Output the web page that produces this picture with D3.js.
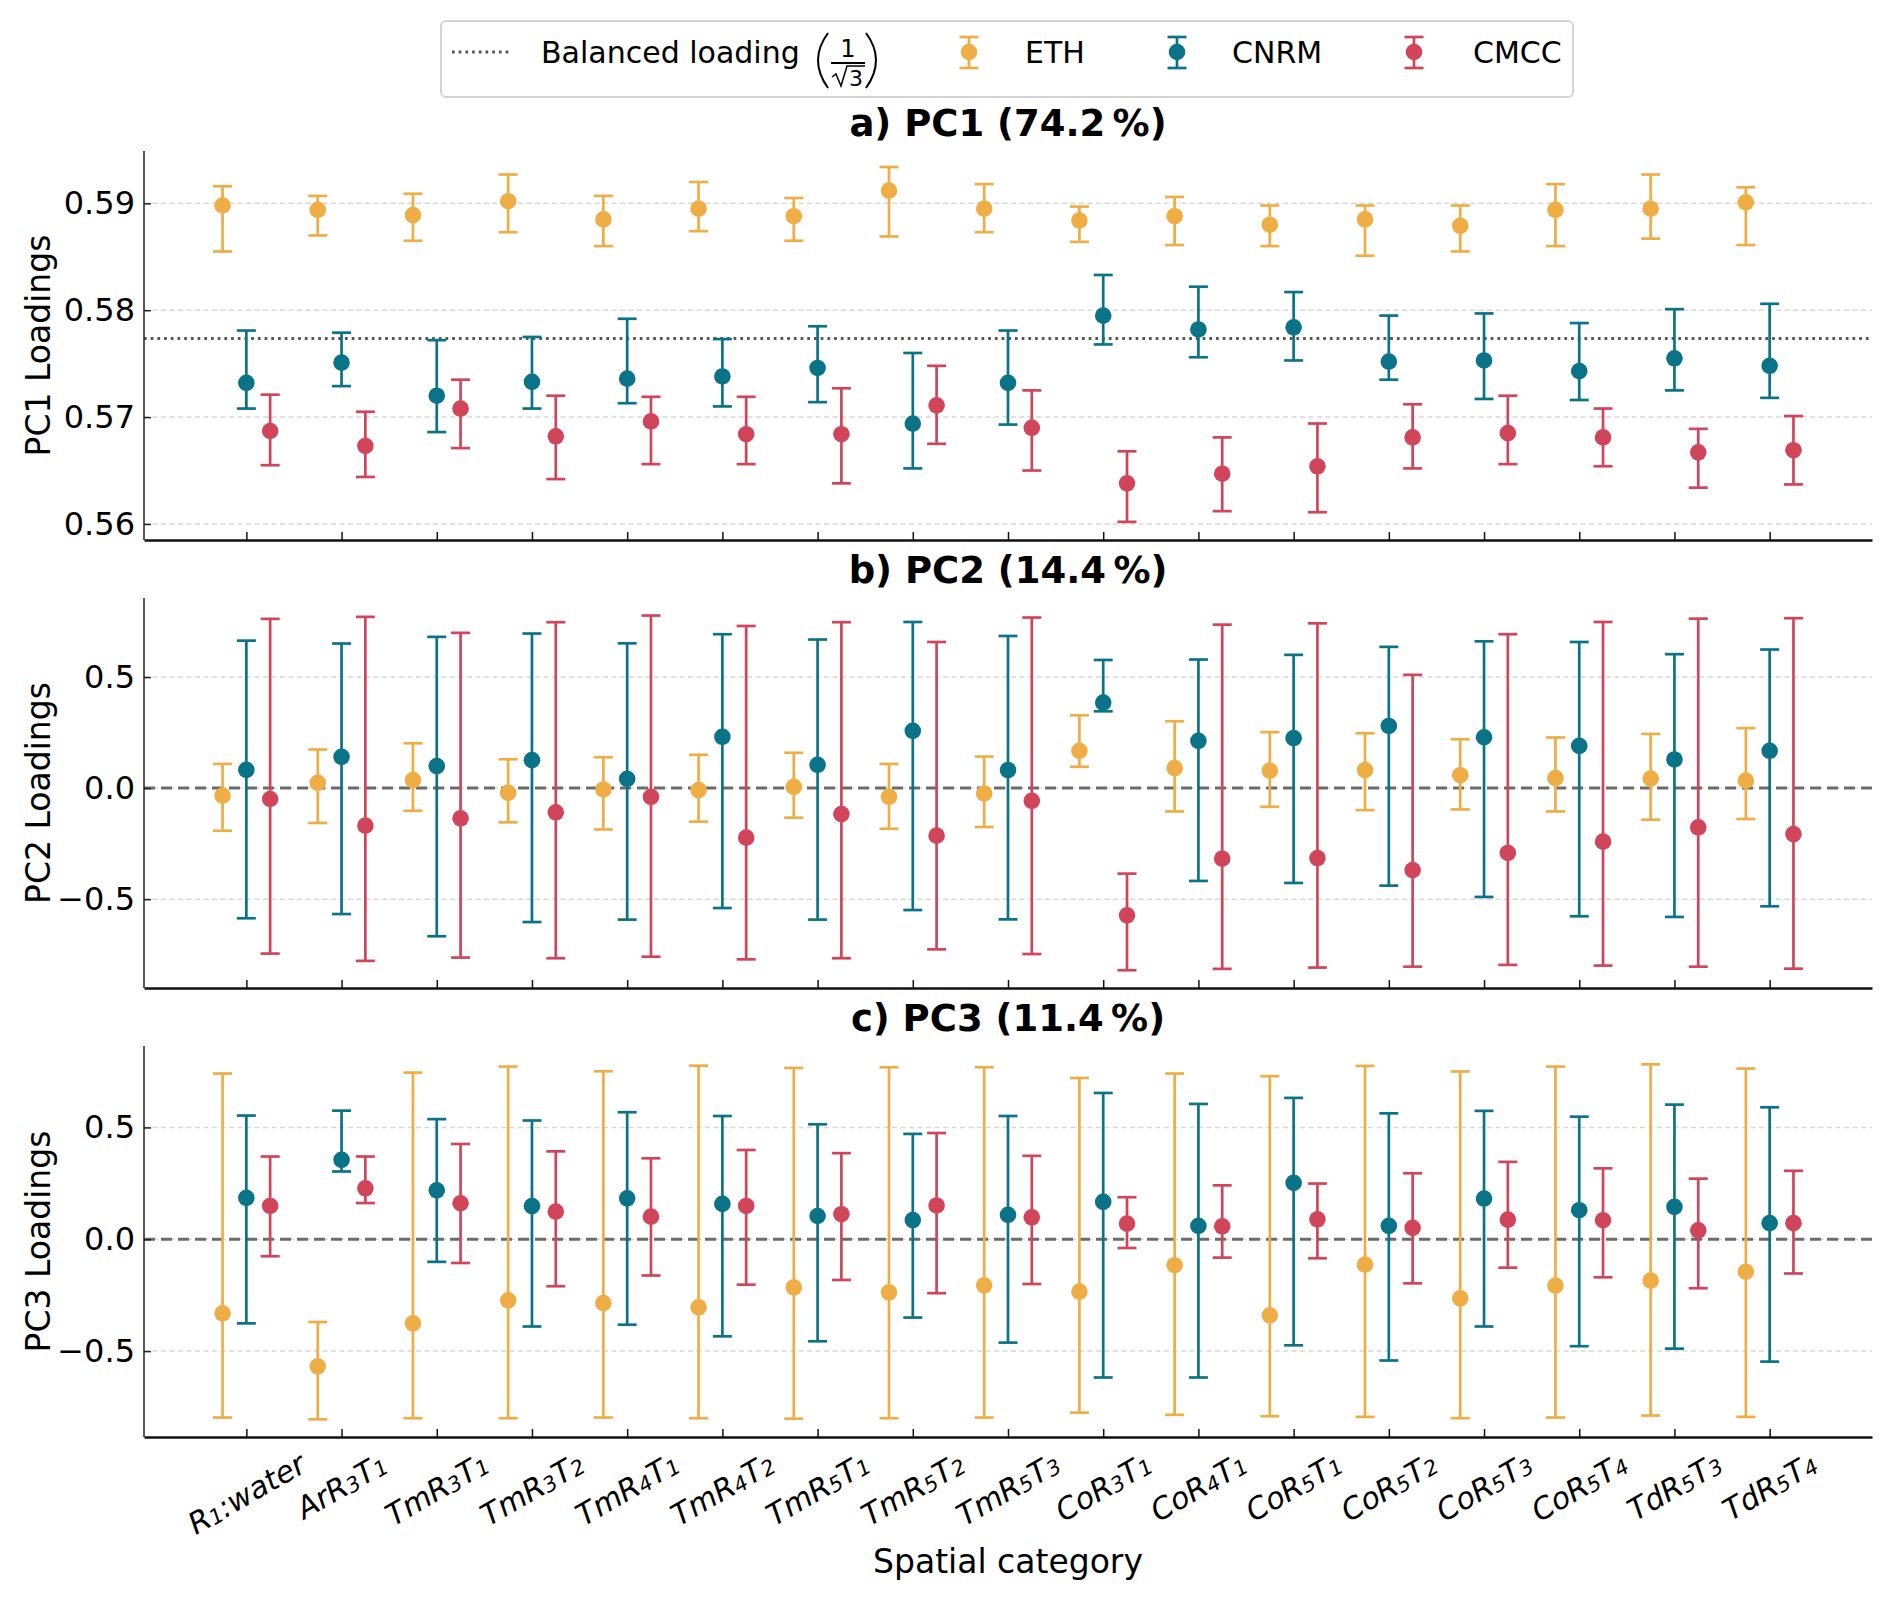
<!DOCTYPE html>
<html>
<head>
<meta charset="utf-8">
<script src="https://cdn.jsdelivr.net/npm/d3@7"></script>
<style>
    body { margin: 0; background: #fff; }
    text { font-family: "DejaVu Sans", sans-serif; fill: #000; }
</style>
</head>
<body>
<div id="chart"></div>
<script>
// categories (x axis), "_" marks a one-character subscript
var categories = ["R_1:water", "ArR_3T_1", "TmR_3T_1", "TmR_3T_2", "TmR_4T_1", "TmR_4T_2",
    "TmR_5T_1", "TmR_5T_2", "TmR_5T_3", "CoR_3T_1", "CoR_4T_1", "CoR_5T_1", "CoR_5T_2",
    "CoR_5T_3", "CoR_5T_4", "TdR_5T_3", "TdR_5T_4"];

var models = ["ETH", "CNRM", "CMCC"];

// [value, lower, upper] per category
var pc1ETH = [[0.5898, 0.5855, 0.5916], [0.5894, 0.5870, 0.5907], [0.5889, 0.5865, 0.5909], [0.5902, 0.5873, 0.5927],
    [0.5885, 0.5860, 0.5907], [0.5895, 0.5874, 0.5920], [0.5888, 0.5865, 0.5905], [0.5912, 0.5869, 0.5934],
    [0.5895, 0.5873, 0.5918], [0.5884, 0.5864, 0.5897], [0.5888, 0.5861, 0.5906], [0.5880, 0.5860, 0.5898],
    [0.5885, 0.5851, 0.5898], [0.5879, 0.5855, 0.5898], [0.5894, 0.5860, 0.5918], [0.5895, 0.5867, 0.5927],
    [0.5901, 0.5861, 0.5915]];
var pc1CNRM = [[0.5732, 0.5708, 0.5781], [0.5751, 0.5729, 0.5779], [0.5720, 0.5686, 0.5772], [0.5733, 0.5708, 0.5775],
    [0.5736, 0.5713, 0.5792], [0.5738, 0.5710, 0.5773], [0.5746, 0.5714, 0.5785], [0.5694, 0.5652, 0.5760],
    [0.5732, 0.5693, 0.5781], [0.5795, 0.5768, 0.5833], [0.5782, 0.5756, 0.5822], [0.5784, 0.5753, 0.5817],
    [0.5752, 0.5735, 0.5795], [0.5753, 0.5717, 0.5797], [0.5743, 0.5716, 0.5788], [0.5755, 0.5725, 0.5801],
    [0.5748, 0.5718, 0.5806]];
var pc1CMCC = [[0.5687, 0.5655, 0.5721], [0.5673, 0.5644, 0.5705], [0.5708, 0.5671, 0.5735], [0.5682, 0.5642, 0.5720],
    [0.5696, 0.5656, 0.5719], [0.5684, 0.5656, 0.5719], [0.5684, 0.5638, 0.5727], [0.5711, 0.5675, 0.5748],
    [0.5690, 0.5650, 0.5725], [0.5638, 0.5602, 0.5668], [0.5647, 0.5612, 0.5681], [0.5654, 0.5611, 0.5694],
    [0.5681, 0.5652, 0.5712], [0.5685, 0.5656, 0.5720], [0.5681, 0.5654, 0.5708], [0.5667, 0.5634, 0.5689],
    [0.5669, 0.5637, 0.5701]];

var pc2ETH = [[-0.034, -0.192, 0.109], [0.024, -0.157, 0.174], [0.036, -0.102, 0.202], [-0.021, -0.154, 0.130],
    [-0.006, -0.186, 0.139], [-0.009, -0.151, 0.150], [0.006, -0.133, 0.159], [-0.039, -0.183, 0.109],
    [-0.024, -0.175, 0.142], [0.168, 0.096, 0.328], [0.090, -0.105, 0.301], [0.079, -0.084, 0.252],
    [0.081, -0.099, 0.247], [0.058, -0.096, 0.220], [0.045, -0.105, 0.228], [0.043, -0.142, 0.244],
    [0.034, -0.139, 0.270]];
var pc2CNRM = [[0.082, -0.586, 0.664], [0.141, -0.567, 0.651], [0.099, -0.667, 0.681], [0.126, -0.603, 0.696],
    [0.042, -0.592, 0.652], [0.231, -0.540, 0.693], [0.105, -0.592, 0.669], [0.258, -0.549, 0.748],
    [0.081, -0.591, 0.685], [0.385, 0.346, 0.577], [0.213, -0.418, 0.579], [0.225, -0.427, 0.600],
    [0.280, -0.439, 0.636], [0.229, -0.490, 0.661], [0.190, -0.577, 0.658], [0.129, -0.580, 0.603],
    [0.168, -0.532, 0.624]];
var pc2CMCC = [[-0.049, -0.745, 0.762], [-0.169, -0.778, 0.771], [-0.136, -0.763, 0.699], [-0.109, -0.766, 0.747],
    [-0.039, -0.759, 0.777], [-0.223, -0.771, 0.730], [-0.117, -0.766, 0.747], [-0.214, -0.726, 0.658],
    [-0.057, -0.747, 0.768], [-0.573, -0.820, -0.385], [-0.318, -0.814, 0.736], [-0.315, -0.808, 0.742],
    [-0.369, -0.804, 0.510], [-0.292, -0.796, 0.693], [-0.241, -0.799, 0.748], [-0.177, -0.804, 0.763],
    [-0.207, -0.813, 0.765]];

var pc3ETH = [[-0.331, -0.797, 0.741], [-0.568, -0.805, -0.370], [-0.376, -0.800, 0.745], [-0.273, -0.800, 0.772],
    [-0.285, -0.797, 0.751], [-0.304, -0.800, 0.776], [-0.215, -0.802, 0.766], [-0.237, -0.800, 0.769],
    [-0.206, -0.797, 0.769], [-0.234, -0.775, 0.721], [-0.116, -0.785, 0.741], [-0.340, -0.791, 0.729],
    [-0.113, -0.794, 0.775], [-0.264, -0.800, 0.750], [-0.207, -0.797, 0.772], [-0.185, -0.788, 0.782],
    [-0.145, -0.794, 0.763]];
var pc3CNRM = [[0.185, -0.376, 0.553], [0.355, 0.303, 0.575], [0.219, -0.101, 0.537], [0.148, -0.390, 0.531],
    [0.183, -0.382, 0.568], [0.158, -0.434, 0.551], [0.104, -0.456, 0.514], [0.086, -0.350, 0.471],
    [0.109, -0.462, 0.551], [0.167, -0.618, 0.654], [0.060, -0.618, 0.605], [0.252, -0.474, 0.632],
    [0.060, -0.542, 0.563], [0.182, -0.390, 0.574], [0.130, -0.478, 0.548], [0.145, -0.489, 0.602],
    [0.072, -0.547, 0.590]];
var pc3CMCC = [[0.149, -0.076, 0.370], [0.228, 0.162, 0.370], [0.161, -0.106, 0.426], [0.124, -0.210, 0.393],
    [0.101, -0.162, 0.362], [0.149, -0.203, 0.399], [0.112, -0.182, 0.385], [0.151, -0.241, 0.475],
    [0.098, -0.200, 0.373], [0.070, -0.039, 0.188], [0.058, -0.082, 0.241], [0.089, -0.085, 0.249],
    [0.051, -0.197, 0.295], [0.088, -0.127, 0.346], [0.085, -0.170, 0.317], [0.040, -0.219, 0.271],
    [0.072, -0.153, 0.306]];

var panelTitles = ["a) PC1 (74.2\u2009%)", "b) PC2 (14.4\u2009%)", "c) PC3 (11.4\u2009%)"];
var panelYLabels = ["PC1 Loadings", "PC2 Loadings", "PC3 Loadings"];
var pc1Ticks = [0.56, 0.57, 0.58, 0.59];
var pc23Ticks = [-0.5, 0.0, 0.5];

var colors = {ETH: "#efad45", CNRM: "#0b7387", CMCC: "#d1455a"};
var offsets = {ETH: -0.25, CNRM: 0, CMCC: 0.25};

// drawing area
var width = 1892, height = 1599;
var axLeft = 144, axRight = 1872;

var svg = d3.select("#chart").append("svg")
    .attr("width", width)
    .attr("height", height);

var x = d3.scaleLinear()
    .domain([-1.075, categories.length - 1 + 1.075])
    .range([axLeft, axRight]);

var panels = [
    {top: 151, bottom: 540, domain: [0.5585, 0.5949], ticks: pc1Ticks, fmt: ".2f",
        data: {ETH: pc1ETH, CNRM: pc1CNRM, CMCC: pc1CMCC}, ref: 1 / Math.sqrt(3), refDash: "2.7,4", refColor: "#555"},
    {top: 598, bottom: 988, domain: [-0.900, 0.856], ticks: pc23Ticks, fmt: ".1f",
        data: {ETH: pc2ETH, CNRM: pc2CNRM, CMCC: pc2CMCC}, ref: 0, refDash: "11,6", refColor: "#6b6b6b"},
    {top: 1046, bottom: 1437, domain: [-0.884, 0.864], ticks: pc23Ticks, fmt: ".1f",
        data: {ETH: pc3ETH, CNRM: pc3CNRM, CMCC: pc3CMCC}, ref: 0, refDash: "11,6", refColor: "#6b6b6b"}
];

panels.forEach(function (p, i) {
    drawPanel(p, i);
});

function drawErrorbar(g, cx, yv, ylo, yhi, color) {
    g.append("line")
        .attr("x1", cx).attr("x2", cx)
        .attr("y1", ylo).attr("y2", yhi)
        .attr("stroke", color)
        .attr("stroke-width", 2.7);
    [ylo, yhi].forEach(function (yy) {
        g.append("line")
            .attr("x1", cx - 9.5).attr("x2", cx + 9.5)
            .attr("y1", yy).attr("y2", yy)
            .attr("stroke", color)
            .attr("stroke-width", 2.7);
    });
    g.append("circle")
        .attr("cx", cx)
        .attr("cy", yv)
        .attr("r", 8.3)
        .attr("fill", color);
}

function drawPanel(p, i) {
    var y = d3.scaleLinear()
        .domain(p.domain)
        .range([p.bottom, p.top]);

    var g = svg.append("g").attr("class", "panel");

    // grid
    g.selectAll(".grid")
        .data(p.ticks)
        .enter()
        .append("line")
        .attr("class", "grid")
        .attr("x1", axLeft).attr("x2", axRight)
        .attr("y1", function (d) { return y(d); })
        .attr("y2", function (d) { return y(d); })
        .attr("stroke", "#d8d8d8")
        .attr("stroke-width", 1.5)
        .attr("stroke-dasharray", "5,3.5");

    // reference line
    g.append("line")
        .attr("x1", axLeft).attr("x2", axRight)
        .attr("y1", y(p.ref)).attr("y2", y(p.ref))
        .attr("stroke", p.refColor)
        .attr("stroke-width", 3)
        .attr("stroke-dasharray", p.refDash);

    // error bars
    models.forEach(function (m) {
        var mg = g.append("g").attr("class", "series-" + m);
        p.data[m].forEach(function (d, k) {
            drawErrorbar(mg, x(k + offsets[m]), y(d[0]), y(d[1]), y(d[2]), colors[m]);
        });
    });

    // y axis
    var yAxis = d3.axisLeft(y)
        .tickValues(p.ticks)
        .tickFormat(d3.format(p.fmt))
        .tickSizeInner(-7)
        .tickSizeOuter(0)
        .tickPadding(9);

    var ya = g.append("g")
        .attr("transform", "translate(" + axLeft + ",0)")
        .call(yAxis);
    ya.select(".domain").attr("stroke", "#222").attr("stroke-width", 1.5)
        .attr("d", "M0," + (p.top) + "V" + p.bottom);
    ya.selectAll(".tick line").attr("stroke", "#222").attr("stroke-width", 1.5);
    ya.selectAll(".tick text")
        .attr("font-size", 32)
        .attr("font-family", "DejaVu Sans")
        .attr("fill", "#000");

    // x axis: inward ticks, labels only on bottom panel
    var xAxis = d3.axisBottom(x)
        .tickValues(d3.range(categories.length))
        .tickFormat("")
        .tickSizeInner(-8)
        .tickSizeOuter(0);

    var xa = g.append("g")
        .attr("transform", "translate(0," + p.bottom + ")")
        .call(xAxis);
    xa.select(".domain").attr("stroke", "#111").attr("stroke-width", 2.6);
    xa.selectAll(".tick line").attr("stroke", "#111").attr("stroke-width", 1.5);

    // title
    svg.append("text")
        .attr("x", (axLeft + axRight) / 2)
        .attr("y", p.top - 15)
        .attr("text-anchor", "middle")
        .attr("font-size", 37)
        .attr("font-weight", "bold")
        .text(panelTitles[i]);

    // y label
    svg.append("text")
        .attr("transform", "translate(50," + ((p.top + p.bottom) / 2) + ") rotate(-90)")
        .attr("text-anchor", "middle")
        .attr("font-size", 33)
        .text(panelYLabels[i]);

    if (i === panels.length - 1) {
        categories.forEach(function (c, k) {
            var t = svg.append("text")
                .attr("font-size", 30)
                .attr("font-style", "italic")
                .attr("text-anchor", "middle");
            addMathText(t, c);
            var bb = t.node().getBBox();
            var rh = bb.width * 0.5 + bb.height * 0.866;
            var cy = 1444 + rh / 2;
            t.attr("x", 0).attr("y", 0)
                .attr("dominant-baseline", "central")
                .attr("transform", "translate(" + x(k) + "," + cy + ") rotate(-30)");
        });

        svg.append("text")
            .attr("x", (axLeft + axRight) / 2)
            .attr("y", 1573)
            .attr("text-anchor", "middle")
            .attr("font-size", 33)
            .text("Spatial category");
    }
}

// "_" + one char becomes a lowered, smaller subscript
function addMathText(t, s) {
    var parts = [];
    for (var i = 0; i < s.length; i++) {
        if (s[i] === "_") {
            parts.push({txt: s[i + 1], sub: true});
            i++;
        } else {
            var last = parts[parts.length - 1];
            if (last && !last.sub) {
                last.txt += s[i];
            } else {
                parts.push({txt: s[i], sub: false});
            }
        }
    }
    var shift = 0;
    parts.forEach(function (d) {
        var dy = 0;
        if (d.sub && shift === 0) { dy = 5; shift = 5; }
        else if (!d.sub && shift !== 0) { dy = -shift; shift = 0; }
        t.append("tspan")
            .attr("dy", dy)
            .attr("font-size", d.sub ? 21 : 30)
            .text(d.txt);
    });
}

// legend
var legend = svg.append("g").attr("class", "legend");

legend.append("rect")
    .attr("x", 441).attr("y", 21)
    .attr("width", 1132).attr("height", 76)
    .attr("rx", 5)
    .attr("fill", "#fff")
    .attr("stroke", "#d4d4d4")
    .attr("stroke-width", 2);

legend.append("line")
    .attr("x1", 452).attr("x2", 512)
    .attr("y1", 52).attr("y2", 52)
    .attr("stroke", "#555")
    .attr("stroke-width", 3)
    .attr("stroke-dasharray", "2.7,4");

legend.append("text")
    .attr("x", 541).attr("y", 63)
    .attr("font-size", 30)
    .text("Balanced loading");

// (1 / sqrt 3)
legend.append("path")
    .attr("d", "M828,33 Q808,60 828,88")
    .attr("fill", "none").attr("stroke", "#000").attr("stroke-width", 2);
legend.append("path")
    .attr("d", "M866,33 Q886,60 866,88")
    .attr("fill", "none").attr("stroke", "#000").attr("stroke-width", 2);
legend.append("text")
    .attr("x", 848).attr("y", 57)
    .attr("text-anchor", "middle")
    .attr("font-size", 24)
    .text("1");
legend.append("line")
    .attr("x1", 831).attr("x2", 865)
    .attr("y1", 63).attr("y2", 63)
    .attr("stroke", "#000").attr("stroke-width", 1.8);
legend.append("path")
    .attr("d", "M832,77 L836,74 L841,86 L847,66 L865,66")
    .attr("fill", "none").attr("stroke", "#000").attr("stroke-width", 1.5);
legend.append("text")
    .attr("x", 856).attr("y", 86)
    .attr("text-anchor", "middle")
    .attr("font-size", 22)
    .text("3");

var legendX = {ETH: 969, CNRM: 1177, CMCC: 1414};
var legendTextX = {ETH: 1025, CNRM: 1232, CMCC: 1473};
models.forEach(function (m) {
    drawErrorbar(legend, legendX[m], 52, 68, 37, colors[m]);
    legend.append("text")
        .attr("x", legendTextX[m]).attr("y", 63)
        .attr("font-size", 30)
        .text(m);
});
</script>
</body>
</html>
